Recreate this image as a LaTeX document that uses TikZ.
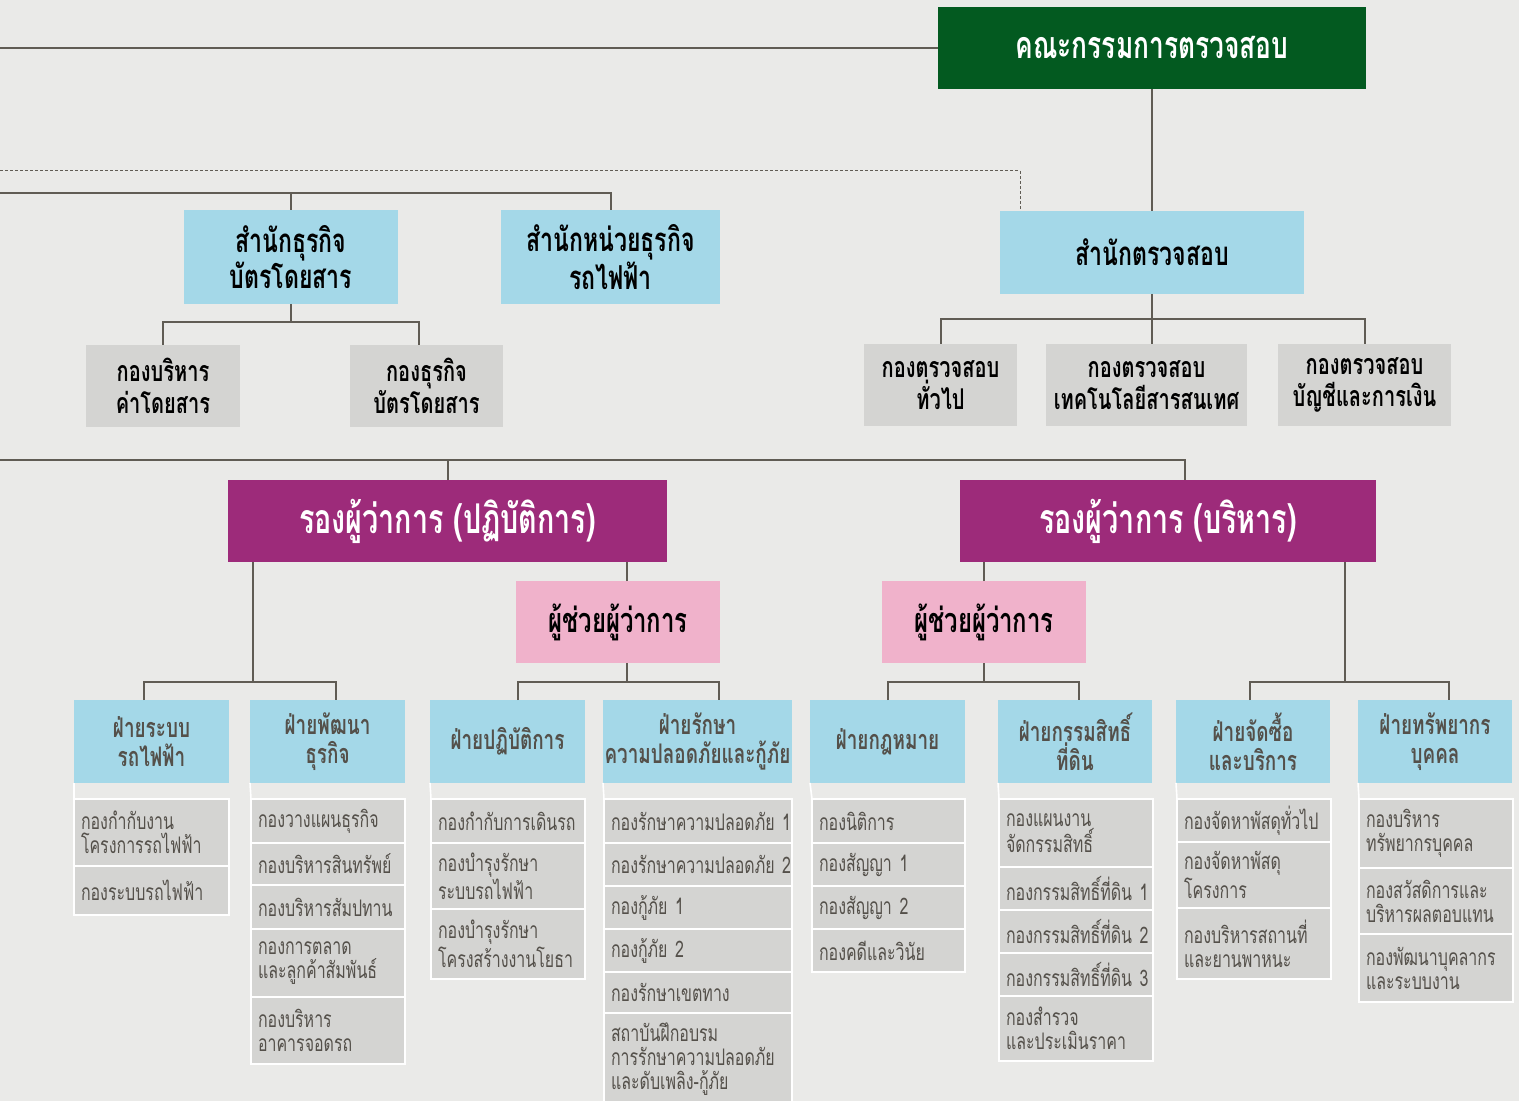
\documentclass[tikz,border=0pt]{standalone}
\usepackage{fontspec}
\setmainfont{Loma}[Script=Thai,FakeStretch=0.7]
\definecolor{bgc}{RGB}{234,234,232}
\definecolor{boardc}{RGB}{3,90,32}
\definecolor{bluec}{RGB}{164,216,232}
\definecolor{greyc}{RGB}{212,212,210}
\definecolor{purplec}{RGB}{157,43,122}
\definecolor{pinkc}{RGB}{240,178,203}
\definecolor{linec}{RGB}{96,92,84}
\definecolor{textc}{RGB}{84,80,74}
\tikzset{
  conn/.style={draw=linec,line width=1pt},
  dashconn/.style={draw=linec,line width=0.5pt,dash pattern=on 1.5pt off 1pt},
  wline/.style={draw=white,line width=0.8pt},
  box/.style={inner sep=0pt,outer sep=0pt,align=center},
  boardbox/.style={box,fill=boardc,text=white,font=\bfseries\fontsize{18.8}{20}\selectfont},
  officebox/.style={box,fill=bluec,font=\bfseries\fontsize{16.5}{18}\selectfont},
  unitbox/.style={box,fill=greyc,font=\bfseries\fontsize{14.3}{16}\selectfont},
  deputybox/.style={box,fill=purplec,text=white,font=\bfseries\fontsize{20.5}{22}\selectfont},
  asstbox/.style={box,fill=pinkc,font=\bfseries\fontsize{17.1}{18}\selectfont},
  divbox/.style={box,fill=bluec,text=textc,font=\bfseries\fontsize{13.5}{14.5}\selectfont},
  itembox/.style={box,fill=greyc,draw=white,line width=0.8pt,text=textc,anchor=north west,align=left,inner xsep=3.5pt,font=\fontsize{11.4}{12}\selectfont},
}
\begin{document}
\begin{tikzpicture}[x=0.5pt,y=-0.5pt]
\useasboundingbox (0,0) rectangle (1519,1101);
\fill[bgc] (0,0) rectangle (1519,1101);
\clip (0,0) rectangle (1519,1101);

\foreach \nm/\xa/\ya/\xb/\yb/\st/\txt in {
  board/938/7/1366/89/boardbox/คณะกรรมการตรวจสอบ,
  audit/1000/211/1304/294/officebox/สำนักตรวจสอบ,
  ticket/184/210/398/304/officebox/{สำนักธุรกิจ\\บัตรโดยสาร},
  rail/501/210/720/304/officebox/{สำนักหน่วยธุรกิจ\\รถไฟฟ้า},
  fare/86/345/240/427/unitbox/{กองบริหาร\\ค่าโดยสาร},
  tbiz/350/345/503/427/unitbox/{กองธุรกิจ\\บัตรโดยสาร},
  aud1/864/344/1017/426/unitbox/{กองตรวจสอบ\\ทั่วไป},
  aud2/1046/344/1247/426/unitbox/{กองตรวจสอบ\\เทคโนโลยีสารสนเทศ},
  aud3/1278/344/1451/426/unitbox/{กองตรวจสอบ\\บัญชีและการเงิน},
  ops/228/480/667/562/deputybox/{รองผู้ว่าการ (ปฏิบัติการ)},
  adm/960/480/1376/562/deputybox/{รองผู้ว่าการ (บริหาร)},
  asst1/516/581/720/663/asstbox/ผู้ช่วยผู้ว่าการ,
  asst2/882/581/1086/663/asstbox/ผู้ช่วยผู้ว่าการ,
  div1/74/700/229/783/divbox/{ฝ่ายระบบ\\รถไฟฟ้า},
  div2/250/700/405/783/divbox/{ฝ่ายพัฒนา\\ธุรกิจ},
  div3/430/700/585/783/divbox/ฝ่ายปฏิบัติการ,
  div4/603/700/792/783/divbox/{ฝ่ายรักษา\\ความปลอดภัยและกู้ภัย},
  div5/810/700/965/783/divbox/ฝ่ายกฎหมาย,
  div6/998/700/1152/783/divbox/{ฝ่ายกรรมสิทธิ์\\ที่ดิน},
  div7/1176/700/1330/783/divbox/{ฝ่ายจัดซื้อ\\และบริการ},
  div8/1358/700/1512/783/divbox/{ฝ่ายทรัพยากร\\บุคคล}}{
  \pgfmathsetmacro\bw{(\xb-\xa)*0.5}
  \pgfmathsetmacro\bh{(\yb-\ya)*0.5}
  \node[\st,minimum width=\bw pt,minimum height=\bh pt] (\nm) at ({(\xa+\xb)/2},{(\ya+\yb)/2}) {\txt};
}

\foreach \c/\xa/\xb/\items in {
  1/74/227/{799/866/{กองกำกับงาน\\โครงการรถไฟฟ้า},866/915/กองระบบรถไฟฟ้า},
  2/251/403/{799/843/กองวางแผนธุรกิจ,843/885/กองบริหารสินทรัพย์,885/929/กองบริหารสัมปทาน,929/997/{กองการตลาด\\และลูกค้าสัมพันธ์},997/1064/{กองบริหาร\\อาคารจอดรถ}},
  3/431/583/{799/843/กองกำกับการเดินรถ,843/909/{กองบำรุงรักษา\\ระบบรถไฟฟ้า},909/979/{กองบำรุงรักษา\\โครงสร้างงานโยธา}},
  4/604/790/{799/843/กองรักษาความปลอดภัย~1,843/886/กองรักษาความปลอดภัย~2,886/929/กองกู้ภัย~1,929/972/กองกู้ภัย~2,972/1013/กองรักษาเขตทาง,1013/1106/{สถาบันฝึกอบรม\\การรักษาความปลอดภัย\\และดับเพลิง-กู้ภัย}},
  5/812/963/{799/843/กองนิติการ,843/886/กองสัญญา~1,886/929/กองสัญญา~2,929/972/กองคดีและวินัย},
  6/999/1151/{799/867/{กองแผนงาน\\จัดกรรมสิทธิ์},867/910/กองกรรมสิทธิ์ที่ดิน~1,910/953/กองกรรมสิทธิ์ที่ดิน~2,953/996/กองกรรมสิทธิ์ที่ดิน~3,996/1061/{กองสำรวจ\\และประเมินราคา}},
  7/1177/1329/{799/842/กองจัดหาพัสดุทั่วไป,842/908/{กองจัดหาพัสดุ\\โครงการ},908/979/{กองบริหารสถานที่\\และยานพาหนะ}},
  8/1359/1511/{799/868/{กองบริหาร\\ทรัพยากรบุคคล},868/934/{กองสวัสดิการและ\\บริหารผลตอบแทน},934/1002/{กองพัฒนาบุคลากร\\และระบบงาน}}}{
  \foreach \ya/\yb/\txt [count=\i] in \items {
    \pgfmathsetmacro\tw{(\xb-\xa-12)*0.5}
    \pgfmathsetmacro\bh{(\yb-\ya)*0.5}
    \node[itembox,text width=\tw pt,minimum height=\bh pt] (l\c-\i) at (\xa,\ya) {\txt};
  }
  \draw[wline] (div\c.south west) -- (l\c-1.north west);
}

\coordinate (lft1) at (0,48);
\coordinate (lft2) at (0,171);
\coordinate (lft3) at (0,193);
\coordinate (lft4) at (0,460);
\draw[conn] (lft1) -- (board.west);
\draw[conn] (board.south) -- (audit.north);
\draw[dashconn] (lft2) -| ([xshift=10pt]audit.north west);
\draw[conn] (lft3) -| (rail.north);
\draw[conn] (ticket.north) -- (ticket.north |- lft3);
\draw[conn] (ticket.south) -- ++(0,18) coordinate (tb);
\draw[conn] (fare.north) |- (tb) -| ([xshift=-4pt]tbiz.north);
\draw[conn] (audit.south) -- ++(0,25) coordinate (ab);
\draw[conn] (aud1.north) |- (ab) -| (aud3.north);
\draw[conn] (ab) -- (ab |- aud2.north);
\draw[conn] (lft4) -| ([xshift=8.5pt]adm.north);
\draw[conn] (ops.north) -- (ops.north |- lft4);
\draw[conn] ([xshift=12.5pt]ops.south west) -- ++(0,120) coordinate (ob);
\draw[conn] ([xshift=-4pt]div1.north) |- (ob) -| ([xshift=4pt]div2.north);
\draw[conn] ([xshift=4.5pt]asst1.north) -- ([xshift=4.5pt]asst1.north |- ops.south);
\draw[conn] ([xshift=4.5pt]asst1.south) -- ++(0,19) coordinate (pa);
\draw[conn] ([xshift=5pt]div3.north) |- (pa) -| ([xshift=10.5pt]div4.north);
\draw[conn] (asst2.north) -- (asst2.north |- adm.south);
\draw[conn] (asst2.south) -- ++(0,19) coordinate (pb);
\draw[conn] (div5.north) |- (pb) -| ([xshift=2pt]div6.north);
\draw[conn] ([xshift=-15.5pt]adm.south east) -- ++(0,120) coordinate (ab2);
\draw[conn] ([xshift=-1.5pt]div7.north) |- (ab2) -| ([xshift=7pt]div8.north);
\end{tikzpicture}
\end{document}
